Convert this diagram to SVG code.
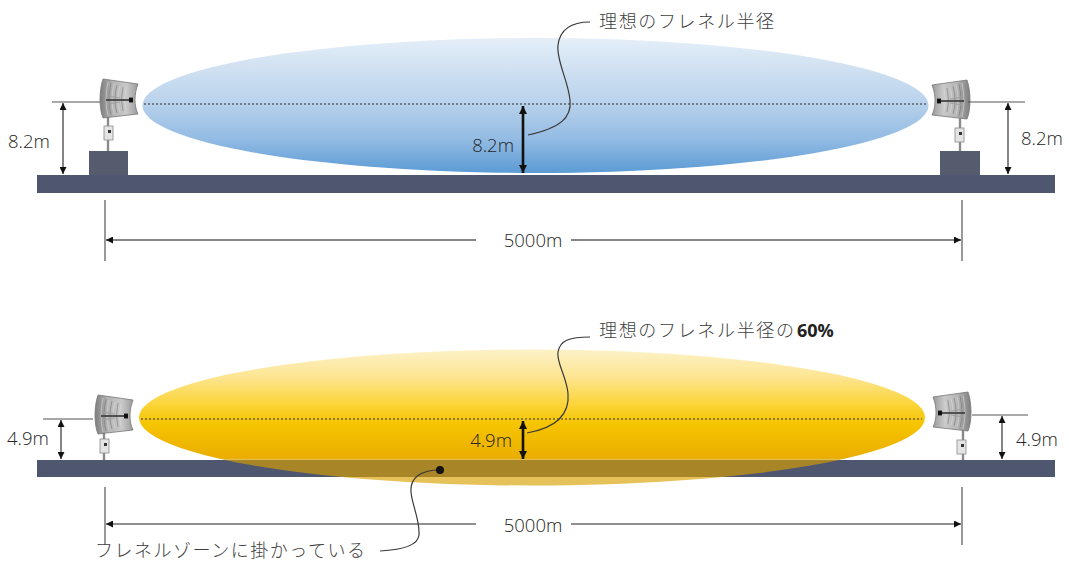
<svg xmlns="http://www.w3.org/2000/svg" width="1069" height="562" viewBox="0 0 1069 562">
  <style>
    .ground { fill: #4f566f; }
    .pedestal { fill: #575b6e; }
    .axis { fill: none; stroke: #2b2b2b; stroke-width: 1; stroke-dasharray: 2 2; }
    .dim { fill: none; stroke: #333; stroke-width: 1.2; }
    .ext { fill: none; stroke: #555; stroke-width: 1.2; }
    .bold-dim { fill: none; stroke: #111; stroke-width: 2.6; }
    .leader { fill: none; stroke: #3a3a3a; stroke-width: 1.2; }
    .num { font-family: "Open Sans", "Noto Sans", "Liberation Sans", sans-serif; font-size: 18.5px; font-weight: 300; fill: #262626; }
    .num-bold { font-family: "Open Sans", "Noto Sans", "Liberation Sans", sans-serif; font-size: 18px; font-weight: 700; fill: #222; }
    .jp { font-family: "Noto Sans CJK JP", "Noto Sans", sans-serif; font-size: 18px; font-weight: 300; fill: #404040; }
    .pole { stroke: #8a8a8a; stroke-width: 2.4; }
  </style>
  <defs>
    <linearGradient id="blueG" x1="0" y1="0" x2="0" y2="1">
      <stop offset="0" stop-color="#e4eef8"/>
      <stop offset="0.45" stop-color="#bcd4ec"/>
      <stop offset="0.75" stop-color="#93bbe3"/>
      <stop offset="1" stop-color="#5b9bd5"/>
    </linearGradient>
    <linearGradient id="yellowG" x1="0" y1="0" x2="0" y2="1">
      <stop offset="0" stop-color="#fdf2c8"/>
      <stop offset="0.2" stop-color="#fde592"/>
      <stop offset="0.4" stop-color="#fbd53a"/>
      <stop offset="0.55" stop-color="#f6c400"/>
      <stop offset="0.8" stop-color="#e9ad00"/>
      <stop offset="0.81" stop-color="#d8a000" stop-opacity="0.65"/>
      <stop offset="1" stop-color="#d8a000" stop-opacity="0.65"/>
    </linearGradient>
    <linearGradient id="dishG" x1="0" y1="0" x2="1" y2="0">
      <stop offset="0" stop-color="#7e7e7e"/>
      <stop offset="0.35" stop-color="#b5b5b5"/>
      <stop offset="0.7" stop-color="#c9c9c9"/>
      <stop offset="1" stop-color="#9a9a9a"/>
    </linearGradient>
    <marker id="ah" viewBox="0 0 10 10" refX="10" refY="5" markerWidth="8" markerHeight="7" markerUnits="userSpaceOnUse" orient="auto-start-reverse">
      <path d="M0,0 L10,5 L0,10 Z" fill="#111"/>
    </marker>
    <marker id="ahBig" viewBox="0 0 10 10" refX="10" refY="5" markerWidth="9" markerHeight="8" markerUnits="userSpaceOnUse" orient="auto-start-reverse">
      <path d="M0,0 L10,5 L0,10 Z" fill="#111"/>
    </marker>
    <!-- grid dish antenna, facing right, origin at the dish rim centre -->
    <g id="dish">
      <path d="M0,-21 C-4,-10 -4,9 0,18 L35,14 C31,6 31,-6 35,-16 Z" fill="url(#dishG)" stroke="#777" stroke-width="0.8"/>
      <g fill="none" stroke="#dadada" stroke-width="0.6">
        <path d="M5,-18 Q1,0 5,16"/>
        <path d="M11,-16 Q7,0 11,14"/>
        <path d="M17,-14 Q13,0 17,12"/>
        <path d="M23,-12 Q20,0 23,10"/>
      </g>
      <g fill="none" stroke="#6a6a6a" stroke-width="0.5">
        <path d="M8,-17 Q4,0 8,15"/>
        <path d="M14,-15 Q10,0 14,13"/>
        <path d="M20,-13 Q17,0 20,11"/>
      </g>
      <path d="M4,-4 L17,-2 M4,4 L17,2" stroke="#a0a0a0" stroke-width="1.2"/>
      <line x1="3" y1="0" x2="29" y2="0" stroke="#444" stroke-width="1.8"/>
      <rect x="26" y="-2.4" width="4" height="4.8" fill="#111"/>
    </g>
    <g id="radio">
      <rect x="0" y="0" width="9" height="14" fill="#e4e4e4" stroke="#8a8a8a" stroke-width="0.8"/>
      <rect x="4" y="4" width="3" height="3" fill="#333"/>
    </g>
  </defs>

  <!-- ===== upper scene: full Fresnel radius ===== -->
  <g id="zone-ideal">
    <ellipse cx="535.5" cy="105.5" rx="393" ry="67.5" fill="url(#blueG)"/>
    <line class="axis" x1="144" y1="104" x2="927" y2="104"/>
  </g>

  <g id="ground-top">
    <rect class="ground" x="37" y="175" width="1018" height="18"/>
  </g>

  <g id="antenna-top-left">
    <rect class="pedestal" x="89" y="151" width="39" height="24"/>
    <line class="pole" x1="108" y1="114" x2="108" y2="151"/>
    <use href="#radio" x="104" y="126"/>
    <use href="#dish" transform="translate(103,100)"/>
  </g>

  <g id="antenna-top-right">
    <rect class="pedestal" x="940" y="151" width="40" height="24"/>
    <line class="pole" x1="960" y1="114" x2="960" y2="151"/>
    <use href="#radio" x="955" y="128"/>
    <use href="#dish" transform="translate(967,101) scale(-1,1)"/>
  </g>

  <!-- ===== lower scene: 60% of the Fresnel radius ===== -->
  <g id="ground-bottom">
    <rect class="ground" x="37" y="460" width="1018" height="17"/>
  </g>

  <g id="zone-60">
    <ellipse cx="532" cy="417.5" rx="393" ry="68" fill="url(#yellowG)"/>
    <line class="axis" x1="141" y1="419" x2="922" y2="419"/>
  </g>

  <g id="antenna-bottom-left">
    <line class="pole" x1="104" y1="430" x2="104" y2="460"/>
    <use href="#radio" x="100" y="439"/>
    <use href="#dish" transform="translate(98,416)"/>
  </g>

  <g id="antenna-bottom-right">
    <line class="pole" x1="963" y1="428" x2="963" y2="460"/>
    <use href="#radio" x="957" y="440"/>
    <use href="#dish" transform="translate(968,413) scale(-1,1)"/>
  </g>

  <!-- ===== dimensions and leaders ===== -->
  <g id="connectors">
    <!-- upper heights -->
    <line class="ext" x1="52" y1="102" x2="100" y2="102"/>
    <line class="dim" x1="63" y1="103" x2="63" y2="174" marker-start="url(#ah)" marker-end="url(#ah)"/>
    <line class="ext" x1="968" y1="102" x2="1025" y2="102"/>
    <line class="dim" x1="1008" y1="103" x2="1008" y2="174" marker-start="url(#ah)" marker-end="url(#ah)"/>
    <line class="bold-dim" x1="523" y1="106" x2="523" y2="173" marker-start="url(#ahBig)" marker-end="url(#ahBig)"/>

    <!-- upper span -->
    <line class="ext" x1="105" y1="200" x2="105" y2="261"/>
    <line class="ext" x1="962" y1="200" x2="962" y2="261"/>
    <line x1="106" y1="240" x2="476" y2="240" stroke="#858585" stroke-width="2" marker-start="url(#ah)"/>
    <line x1="571" y1="240" x2="961" y2="240" stroke="#858585" stroke-width="2" marker-end="url(#ah)"/>

    <!-- lower heights -->
    <line class="ext" x1="43" y1="419" x2="93" y2="419"/>
    <line class="dim" x1="61" y1="420" x2="61" y2="459" marker-start="url(#ah)" marker-end="url(#ah)"/>
    <line class="ext" x1="972" y1="415" x2="1028" y2="415"/>
    <line class="dim" x1="1002" y1="416" x2="1002" y2="459" marker-start="url(#ah)" marker-end="url(#ah)"/>
    <line class="bold-dim" x1="523" y1="421" x2="523" y2="459" marker-start="url(#ahBig)" marker-end="url(#ahBig)"/>

    <!-- lower span -->
    <line class="ext" x1="105" y1="487" x2="105" y2="545"/>
    <line class="ext" x1="962" y1="487" x2="962" y2="545"/>
    <line x1="106" y1="524" x2="476" y2="524" stroke="#222" stroke-width="1.2" marker-start="url(#ah)"/>
    <line x1="571" y1="524" x2="961" y2="524" stroke="#222" stroke-width="1.2" marker-end="url(#ah)"/>

    <!-- leaders -->
    <path class="leader" d="M528,135 C560,128 572,118 570,100 C568,80 556,60 558,45 C560,30 570,22 590,22"/>
    <path class="leader" d="M527,433 C555,428 570,415 568,393 C566,375 556,362 558,352 C560,340 570,337 590,337"/>
    <path class="leader" d="M440,470 C420,470 410,478 411,492 C412,505 420,520 419,535 C418,546 400,550 380,551"/>
    <circle cx="440" cy="470" r="4" fill="#111"/>
  </g>

  <!-- ===== labels ===== -->
  <g id="labels">
    <text class="num" x="8" y="148">8.2m</text>
    <text class="num" x="1021" y="145">8.2m</text>
    <text class="num" x="514" y="152" text-anchor="end">8.2m</text>
    <text class="num" x="533" y="247" text-anchor="middle">5000m</text>

    <text class="num" x="7" y="445">4.9m</text>
    <text class="num" x="1016" y="446">4.9m</text>
    <text class="num" x="512" y="447" text-anchor="end">4.9m</text>
    <text class="num" x="533" y="532" text-anchor="middle">5000m</text>

    <text class="jp" x="599" y="28" textLength="175" lengthAdjust="spacing">理想のフレネル半径</text>
    <text class="jp" x="599" y="337" textLength="195" lengthAdjust="spacing">理想のフレネル半径の</text>
    <text class="num-bold" x="797" y="337">60%</text>
    <text class="jp" x="95" y="557" textLength="270" lengthAdjust="spacing">フレネルゾーンに掛かっている</text>
  </g>
</svg>
